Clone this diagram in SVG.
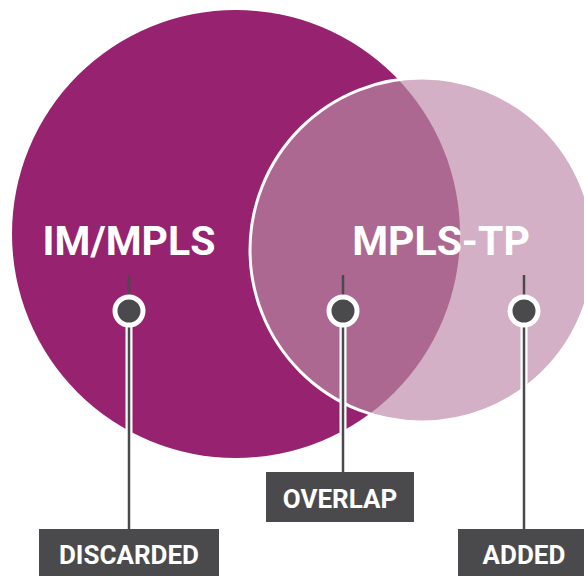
<svg xmlns="http://www.w3.org/2000/svg" width="584" height="576" viewBox="0 0 584 576">
<style>
.title{font-family:Roboto,"Liberation Sans",sans-serif;font-weight:bold;font-size:41px;fill:#fff;text-anchor:middle}
.lbl{font-family:Roboto,"Liberation Sans",sans-serif;font-weight:bold;font-size:26px;fill:#fff;text-anchor:middle}
.box{fill:#4a4a4c}
.stub{stroke:#4a4a4c;stroke-width:2.5;fill:none}
.halo{stroke:#fff;stroke-width:7;fill:none}
.wire{stroke:#4a4a4c;stroke-width:2.5;fill:none}
.ring{fill:#4a4a4c;stroke:#fff;stroke-width:5}
</style>
<defs>
<clipPath id="smallClip"><circle cx="422" cy="250" r="172"/></clipPath>
</defs>
<g id="im-mpls">
<circle cx="236" cy="234" r="224" fill="#962270"/>
</g>
<g id="mpls-tp">
<circle cx="422" cy="250" r="172" fill="#d4b0c6"/>
<circle cx="236" cy="234" r="224" fill="#ad6891" clip-path="url(#smallClip)"/>
<circle cx="422" cy="250" r="172" fill="none" stroke="#fff" stroke-width="3"/>
</g>
<text class="title" x="129" y="255">IM/MPLS</text>
<text class="title" x="441" y="255">MPLS-TP</text>
<g id="connectors">
<line class="stub" x1="129" y1="275" x2="129" y2="311"/>
<line class="stub" x1="343" y1="275" x2="343" y2="311"/>
<line class="stub" x1="524" y1="275" x2="524" y2="311"/>
<line class="halo" x1="129" y1="311" x2="129" y2="529"/>
<line class="halo" x1="343" y1="311" x2="343" y2="472"/>
<line class="halo" x1="524" y1="311" x2="524" y2="529"/>
<line class="wire" x1="129" y1="311" x2="129" y2="529"/>
<line class="wire" x1="343" y1="311" x2="343" y2="472"/>
<line class="wire" x1="524" y1="311" x2="524" y2="529"/>
<circle class="ring" cx="129" cy="311" r="14"/>
<circle class="ring" cx="343" cy="311" r="14"/>
<circle class="ring" cx="524" cy="311" r="14"/>
</g>
<g id="discarded">
<rect class="box" x="39" y="529" width="180" height="50"/>
<text class="lbl" x="129" y="564">DISCARDED</text>
</g>
<g id="overlap">
<rect class="box" x="266" y="472" width="148" height="50"/>
<text class="lbl" x="340" y="508">OVERLAP</text>
</g>
<g id="added">
<rect class="box" x="458" y="529" width="130" height="50"/>
<text class="lbl" x="524" y="564">ADDED</text>
</g>
</svg>
